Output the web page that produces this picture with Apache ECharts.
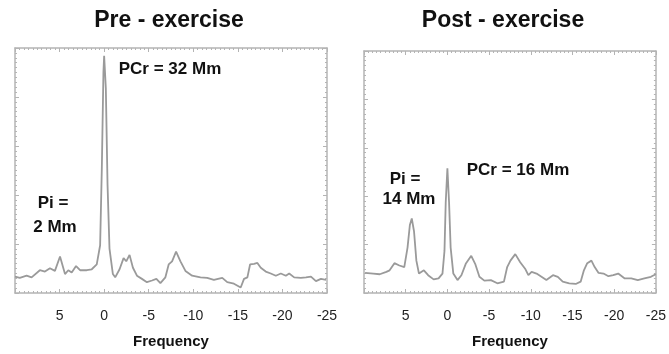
<!DOCTYPE html>
<html>
<head>
<meta charset="utf-8">
<script src="https://cdn.jsdelivr.net/npm/echarts@6/dist/echarts.min.js"></script>
<style>
  html, body { margin: 0; padding: 0; background: #fff; }
  #chart { width: 669px; height: 354px; }
</style>
</head>
<body>
<div id="chart"></div>
<script>
// frequency (ppm), signal (arbitrary units)
const preFreq = [10.0, 9.46, 8.70, 8.14, 7.21, 6.64, 6.08, 5.52, 4.95, 4.39, 4.02, 3.64, 3.15, 2.70, 1.95, 1.39, 0.83, 0.45, 0.26, 0.08, 0,
  -0.19, -0.38, -0.60, -0.98, -1.24, -1.73, -2.18, -2.48, -2.85, -3.23, -3.68, -4.24, -4.80, -5.37, -5.86, -6.31, -6.87, -7.24, -7.62,
  -8.07, -8.56, -9.12, -9.87, -10.81, -11.56, -12.31, -13.25, -13.81, -14.56, -15.32, -15.69, -16.07, -16.37, -16.82, -17.19, -17.57,
  -18.13, -18.69, -19.26, -19.82, -20.38, -20.76, -21.32, -22.07, -22.64, -23.20, -23.76, -24.32, -24.89];
const preSignal = [17, 15.7, 18, 16.3, 23.7, 22.3, 25.7, 23, 38, 19.7, 23.7, 21.3, 28, 23.7, 23.7, 24.7, 29.7, 49.7, 129.7, 229.7, 247,
  213, 113, 46.3, 19.7, 16.3, 24.7, 36.3, 33, 39.7, 26.3, 18, 14.7, 11.3, 13, 14.7, 10.3, 16.3, 29.7, 33,
  43, 33, 23, 18, 16.3, 15.7, 13.7, 15.7, 11.3, 9.7, 5.7, 14.7, 16.3, 29.7, 30.3, 31.3, 26.3,
  22.3, 20.3, 18, 20.3, 18, 20.3, 16.3, 15.7, 16.3, 17, 12.3, 14.7, 13.7];

const postFreq = [9.87, 8.89, 8.11, 7.32, 6.93, 6.35, 5.76, 5.17, 4.78, 4.50, 4.27, 4.00, 3.72, 3.41, 2.82, 2.31, 1.65, 1.06, 0.59, 0.35,
  0.20, 0, -0.20, -0.39, -0.71, -1.21, -1.68, -2.20, -2.86, -3.33, -3.84, -4.43, -5.21, -5.99, -6.78, -7.17, -7.56, -8.14, -8.73,
  -9.32, -9.71, -10.10, -10.69, -11.28, -11.87, -12.66, -13.24, -13.83, -14.61, -15.39, -15.98, -16.37, -16.77, -17.27, -17.66,
  -18.13, -18.72, -19.31, -19.89, -20.48, -21.27, -22.05, -22.83, -23.62, -24.40, -24.99];
const postSignal = [20.7, 20, 19.3, 21.7, 23.3, 30.7, 28.3, 26.7, 46.7, 70, 76.7, 63.3, 33.3, 20, 23.3, 18.3, 14, 15, 20, 43.3,
  93.3, 128.3, 93.3, 46.7, 20, 13.3, 18.3, 30, 38.3, 30, 16.7, 12.7, 13.3, 10, 11.7, 26.7, 33.3, 40, 31.7,
  25, 18.3, 21.7, 20, 16.7, 13.3, 18.3, 16.7, 11.7, 10, 9.3, 11.7, 23.3, 30.7, 33.3, 26.7,
  20.7, 20, 17.3, 18.3, 20, 15, 15, 13.3, 15, 16.7, 19.3];

const titles = ['Pre - exercise', 'Post - exercise'];
const xName = 'Frequency';

const font = 'Liberation Sans, Arial, sans-serif';
const boxColor = '#b4b4b4';

function pairs(xs, ys) {
  return xs.map((x, i) => [x, ys[i]]);
}

function xAxis(grid, pos, labels) {
  return {
    type: 'value',
    gridIndex: grid,
    position: pos,
    min: -25,
    max: 10,
    interval: 5,
    inverse: true,
    name: labels ? xName : '',
    nameLocation: 'middle',
    nameGap: 41,
    nameTextStyle: { fontFamily: font, fontWeight: 'bold', fontSize: 15, color: '#111' },
    axisLine: { show: true, onZero: false, lineStyle: { color: boxColor, width: 1.5 } },
    axisTick: { show: true, inside: true, length: 4, lineStyle: { color: boxColor } },
    minorTick: { show: true, splitNumber: 10, length: 2, lineStyle: { color: boxColor } },
    splitLine: { show: false },
    axisLabel: {
      show: labels,
      margin: 16,
      fontFamily: font,
      fontSize: 14,
      color: '#222',
      formatter: (v) => (v > 5 ? '' : String(v)),
    },
  };
}

function yAxis(grid, pos, max) {
  return {
    type: 'value',
    gridIndex: grid,
    position: pos,
    min: 0,
    max: max,
    interval: max / 5,
    axisLine: { show: true, onZero: false, lineStyle: { color: boxColor, width: 1.5 } },
    axisTick: { show: true, inside: true, length: 4, lineStyle: { color: boxColor } },
    minorTick: { show: true, splitNumber: 10, length: 2, lineStyle: { color: boxColor } },
    splitLine: { show: false },
    axisLabel: { show: false },
  };
}

function note(text, x, y, size) {
  return {
    type: 'text',
    x: x,
    y: y,
    style: {
      text: text,
      fontFamily: font,
      fontWeight: 'bold',
      fontSize: size || 17,
      fill: '#111',
      textAlign: 'center',
      textVerticalAlign: 'middle',
    },
  };
}

const chart = echarts.init(document.getElementById('chart'));
const option = {
  animation: false,
  grid: [
    { left: 15, top: 48, width: 312, height: 255 },
    { left: 364, top: 51, width: 298, height: 249 },
  ],
  xAxis: [
    xAxis(0, 'bottom', true),
    xAxis(0, 'top', false),
    xAxis(1, 'bottom', true),
    xAxis(1, 'top', false),
  ],
  yAxis: [
    yAxis(0, 'left', 255),
    yAxis(0, 'right', 255),
    yAxis(1, 'left', 249),
    yAxis(1, 'right', 249),
  ],
  series: [
    {
      type: 'line',
      xAxisIndex: 0,
      yAxisIndex: 0,
      data: pairs(preFreq, preSignal),
      symbol: 'none',
      lineStyle: { color: '#9a9a9a', width: 1.8 },
    },
    {
      type: 'line',
      xAxisIndex: 2,
      yAxisIndex: 2,
      data: pairs(postFreq, postSignal),
      symbol: 'none',
      lineStyle: { color: '#9a9a9a', width: 1.8 },
    },
  ],
  graphic: [
    note(titles[0], 169, 21, 23),
    note(titles[1], 503, 21, 23),
    note('PCr = 32 Mm', 170, 69),
    note('Pi =', 53, 203),
    note('2 Mm', 55, 227),
    note('PCr = 16 Mm', 518, 170),
    note('Pi =', 405, 179),
    note('14 Mm', 409, 199),
  ],
};
chart.setOption(option, true);
</script>
</body>
</html>
